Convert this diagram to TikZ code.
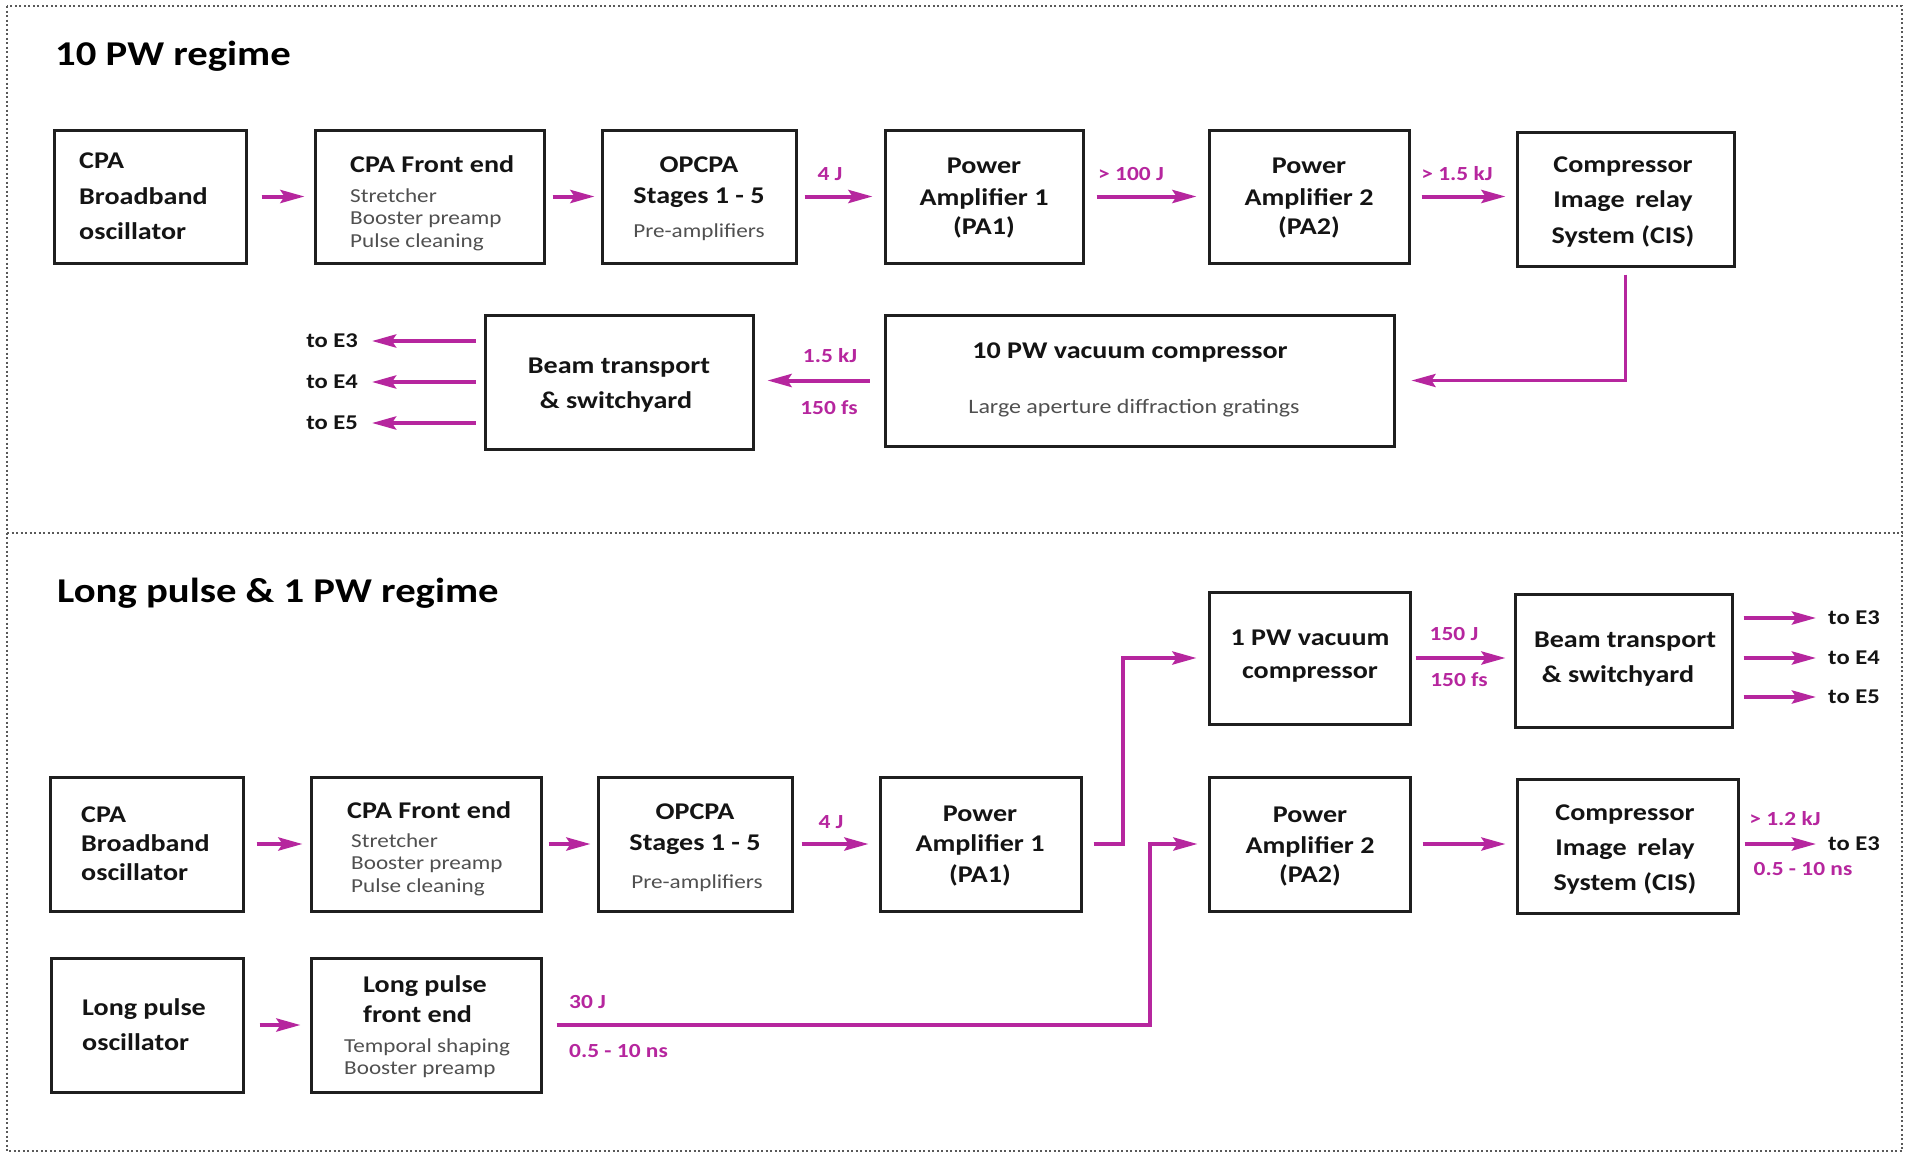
\documentclass[tikz,border=0pt]{standalone}
\usepackage{fontspec}
\setmainfont{Carlito}[FakeStretch=1.17]
\usetikzlibrary{arrows.meta}
\definecolor{mag}{RGB}{182,38,158}
\definecolor{subg}{RGB}{80,80,80}
\newcommand\blkbox[5]{\node[blk, minimum width={(#4)-(#2)}, minimum height={(#5)-(#3)}] (#1) at ({((#2)+(#4))/2},{((#3)+(#5))/2}) {};}
\tikzset{
 blk/.style={draw=black!88, line width=3pt, inner sep=0pt, rectangle},
 mt/.style={font=\fontsize{24}{28}\selectfont\bfseries, text=black!92, inner sep=0pt},
 st/.style={font=\fontsize{19.8}{22}\selectfont, text=subg, inner sep=0pt},
 lab/.style={font=\fontsize{20}{24}\selectfont\bfseries, text=mag, inner sep=0pt},
 outl/.style={font=\fontsize{21}{24}\selectfont\bfseries, text=black!92, inner sep=0pt},
 ttl/.style={font=\fontsize{34.8}{40}\selectfont\bfseries, text=black, inner sep=0pt},
 arr/.style={draw=mag, line width=4pt, -{Stealth[length=24pt,width=13pt,inset=4pt]}},
 bord/.style={draw=black!65, line width=2.2pt, dash pattern=on 2pt off 2.5pt},
}
\begin{document}
\begin{tikzpicture}[x=1pt,y=-1pt]
\useasboundingbox (0,0) rectangle (1905,1154);
\fill[white] (0,0) rectangle (1905,1154);
% borders
\draw[bord] (7,6) rectangle (1902,1151);
\draw[bord] (7,533) -- (1902,533);
% titles
\node[ttl, anchor=base west] (title1) at (55,65) {10 PW regime};
\node[ttl, anchor=base west] (title2) at (57,602) {Long pulse \& 1 PW regime};

% ---------- 10 PW regime ----------
\blkbox{a1}{54}{130}{246}{263}
\blkbox{a2}{315}{130}{544}{263}
\blkbox{a3}{602}{130}{796}{263}
\blkbox{a4}{885}{130}{1083}{263}
\blkbox{a5}{1209}{130}{1409}{263}
\blkbox{a6}{1517}{132}{1734}{266}
\blkbox{vac}{885}{315}{1394}{446}
\blkbox{bt1}{485}{315}{753}{449}

\node[mt, anchor=base west] (a1t1) at (79,168) {CPA};
\node[mt, anchor=base west] (a1t2) at (79,204) {Broadband};
\node[mt, anchor=base west] (a1t3) at (79,239) {oscillator};

\node[mt, anchor=base west] (a2t1) at (350,172) {CPA Front end};
\node[st, anchor=base west] (a2t2) at (350,202) {Stretcher};
\node[st, anchor=base west] (a2t3) at (350,224) {Booster preamp};
\node[st, anchor=base west] (a2t4) at (350,247) {Pulse cleaning};

\node[mt, anchor=base] (a3t1) at (699,172) {OPCPA};
\node[mt, anchor=base] (a3t2) at (699,203) {Stages 1 - 5};
\node[st, anchor=base] (a3t3) at (699,237) {Pre-amplifiers};

\node[mt, anchor=base] (a4t1) at (984,173) {Power};
\node[mt, anchor=base] (a4t2) at (984,205) {Amplifier 1};
\node[mt, anchor=base] (a4t3) at (984,234) {(PA1)};

\node[mt, anchor=base] (a5t1) at (1309,173) {Power};
\node[mt, anchor=base] (a5t2) at (1309,205) {Amplifier 2};
\node[mt, anchor=base] (a5t3) at (1309,234) {(PA2)};

\node[mt, anchor=base] (a6t1) at (1623,172) {Compressor};
\node[mt, anchor=base] (a6t2) at (1623,207) {Image\hspace{0.45em}relay};
\node[mt, anchor=base] (a6t3) at (1623,243) {System (CIS)};

\node[mt, anchor=base] (vact1) at (1130,358) {10 PW vacuum compressor};
\node[st, font=\fontsize{20.5}{24}\selectfont, anchor=base] (vact2) at (1134,413) {Large aperture diffraction gratings};

\node[mt, anchor=base] (bt1t1) at (619,373) {Beam transport};
\node[mt, anchor=base] (bt1t2) at (616,408) {\& switchyard};

% labels row 1
\node[lab, anchor=base] (l4j) at (830,180) {4 J};
\node[lab, anchor=base] (l100) at (1131,180) {> 100 J};
\node[lab, anchor=base] (l15) at (1457,180) {> 1.5 kJ};
\node[lab, anchor=base] (l15b) at (830,362) {1.5 kJ};
\node[lab, anchor=base] (l150) at (829,414) {150 fs};

% arrows row 1
\draw[arr, shorten <=14pt, shorten >=9pt] (a1.east) -- (a2.west);
\draw[arr, shorten <=7pt, shorten >=6pt] (a2.east) -- (a3.west);
\draw[arr, shorten <=7pt, shorten >=11pt] (a3.east) -- (a4.west);
\draw[arr, shorten <=12pt, shorten >=11pt] (a4.east) -- (a5.west);
\draw[arr, shorten <=11pt, shorten >=10pt] (a5.east) -- (a5.east -| a6.west);
\draw[arr, line width=3.5pt, shorten <=7pt, shorten >=16pt] (a6.south) -- (a6.south |- vac.east) -- (vac.east);
\draw[arr, shorten <=14pt, shorten >=13pt] (vac.west) -- (vac.west -| bt1.east);

% outputs row 1
\coordinate (o1) at (372,341);
\coordinate (o2) at (372,382);
\coordinate (o3) at (372,423);
\draw[arr, shorten <=8pt] (bt1.west |- o1) -- (o1);
\draw[arr, shorten <=8pt] (bt1.west |- o2) -- (o2);
\draw[arr, shorten <=8pt] (bt1.west |- o3) -- (o3);
\node[outl, anchor=base east] (oe3) at (358,347) {to E3};
\node[outl, anchor=base east] (oe4) at (358,388) {to E4};
\node[outl, anchor=base east] (oe5) at (358,429) {to E5};

% ---------- Long pulse & 1 PW regime ----------
\blkbox{pv}{1209}{592}{1410}{724}
\blkbox{bt2}{1515}{594}{1732}{727}
\blkbox{b1}{50}{777}{243}{911}
\blkbox{b2}{311}{777}{541}{911}
\blkbox{b3}{598}{777}{792}{911}
\blkbox{b4}{880}{777}{1081}{911}
\blkbox{b5}{1209}{777}{1410}{911}
\blkbox{b6}{1517}{779}{1738}{913}
\blkbox{c1}{51}{958}{243}{1092}
\blkbox{c2}{311}{958}{541}{1092}

\node[mt, anchor=base] (pvt1) at (1310,645) {1 PW vacuum};
\node[mt, anchor=base] (pvt2) at (1310,678) {compressor};

\node[mt, anchor=base] (bt2t1) at (1625,647) {Beam transport};
\node[mt, anchor=base] (bt2t2) at (1618,682) {\& switchyard};

\node[mt, anchor=base west] (b1t1) at (81,822) {CPA};
\node[mt, anchor=base west] (b1t2) at (81,851) {Broadband};
\node[mt, anchor=base west] (b1t3) at (81,880) {oscillator};

\node[mt, anchor=base west] (b2t1) at (347,818) {CPA Front end};
\node[st, anchor=base west] (b2t2) at (351,847) {Stretcher};
\node[st, anchor=base west] (b2t3) at (351,869) {Booster preamp};
\node[st, anchor=base west] (b2t4) at (351,892) {Pulse cleaning};

\node[mt, anchor=base] (b3t1) at (695,819) {OPCPA};
\node[mt, anchor=base] (b3t2) at (695,850) {Stages 1 - 5};
\node[st, anchor=base] (b3t3) at (697,888) {Pre-amplifiers};

\node[mt, anchor=base] (b4t1) at (980,821) {Power};
\node[mt, anchor=base] (b4t2) at (980,851) {Amplifier 1};
\node[mt, anchor=base] (b4t3) at (980,882) {(PA1)};

\node[mt, anchor=base] (b5t1) at (1310,822) {Power};
\node[mt, anchor=base] (b5t2) at (1310,853) {Amplifier 2};
\node[mt, anchor=base] (b5t3) at (1310,882) {(PA2)};

\node[mt, anchor=base] (b6t1) at (1625,820) {Compressor};
\node[mt, anchor=base] (b6t2) at (1625,855) {Image\hspace{0.45em}relay};
\node[mt, anchor=base] (b6t3) at (1625,890) {System (CIS)};

\node[mt, anchor=base west] (c1t1) at (82,1015) {Long pulse};
\node[mt, anchor=base west] (c1t2) at (82,1050) {oscillator};

\node[mt, anchor=base west] (c2t1) at (363,992) {Long pulse};
\node[mt, anchor=base west] (c2t2) at (363,1022) {front end};
\node[st, anchor=base west] (c2t3) at (344,1052) {Temporal shaping};
\node[st, anchor=base west] (c2t4) at (344,1074) {Booster preamp};

% labels lower
\node[lab, anchor=base] (l150j) at (1454,640) {150 J};
\node[lab, anchor=base] (l150f) at (1459,686) {150 fs};
\node[lab, anchor=base] (l4j2) at (831,828) {4 J};
\node[lab, anchor=base] (l12) at (1785,825) {> 1.2 kJ};
\node[lab, anchor=base] (l05a) at (1803,875) {0.5 - 10 ns};
\node[lab, anchor=base west] (l30) at (569,1008) {30 J};
\node[lab, anchor=base west] (l05b) at (569,1057) {0.5 - 10 ns};

% arrows lower
\draw[arr, shorten <=12pt, shorten >=7pt] (b1.east) -- (b2.west);
\draw[arr, shorten <=6pt, shorten >=6pt] (b2.east) -- (b3.west);
\draw[arr, shorten <=8pt, shorten >=10pt] (b3.east) -- (b4.west);
\draw[arr, shorten <=15pt, shorten >=9pt] (c1.east) -- (c2.west);
\coordinate (j1) at (1123,0);
\coordinate (j2) at (1150,0);
\draw[arr, shorten <=11pt, shorten >=11pt] (b4.east) -- (b4.east -| j1) -- (j1 |- pv.west) -- (pv.west);
\draw[arr, shorten <=14pt, shorten >=10pt] (c2.east) -- (c2.east -| j2) -- (j2 |- b5.west) -- (b5.west);
\draw[arr, shorten <=4pt, shorten >=8pt] (pv.east) -- (pv.east -| bt2.west);
\draw[arr, shorten <=11pt, shorten >=10pt] (b5.east) -- (b5.east -| b6.west);

% outputs lower
\coordinate (p1) at (1816,618);
\coordinate (p2) at (1816,658);
\coordinate (p3) at (1816,697);
\coordinate (p4) at (1816,844);
\draw[arr, shorten <=10pt] (bt2.east |- p1) -- (p1);
\draw[arr, shorten <=10pt] (bt2.east |- p2) -- (p2);
\draw[arr, shorten <=10pt] (bt2.east |- p3) -- (p3);
\draw[arr, shorten <=5pt] (b6.east |- p4) -- (p4);
\node[outl, anchor=base west] (pe3) at (1828,624) {to E3};
\node[outl, anchor=base west] (pe4) at (1828,664) {to E4};
\node[outl, anchor=base west] (pe5) at (1828,703) {to E5};
\node[outl, anchor=base west] (pe3b) at (1828,850) {to E3};
\end{tikzpicture}
\end{document}
